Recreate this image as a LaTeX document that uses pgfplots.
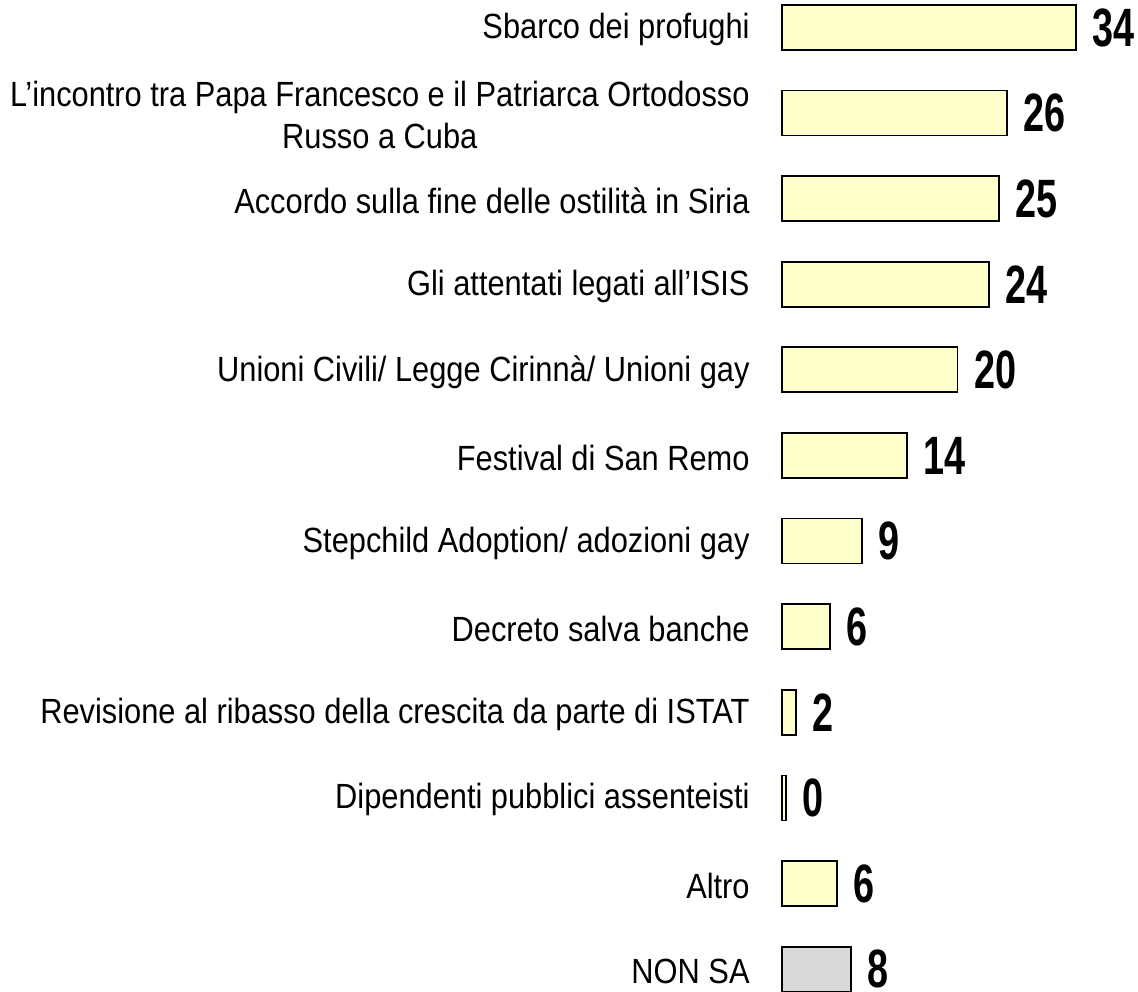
\documentclass[border=0pt]{standalone}
\usepackage{fontspec}
\setmainfont{Liberation Sans}
\newfontfamily\labfont[FakeStretch=0.88]{Liberation Sans}
\newfontfamily\numfont[FakeStretch=0.7]{Liberation Sans}
\usepackage{pgfplots}
\pgfplotsset{compat=1.18}
\usepackage{pgfplotstable}
\definecolor{barY}{HTML}{FFFFCC}
\definecolor{barG}{HTML}{D9D9D9}

\pgfplotstableread{
y x lab
0 34.0 34
1 26.0 26
2 25.1 25
3 23.9 24
4 20.3 20
5 14.45 14
6 9.25 9
7 5.55 6
8 1.6 2
9 0.46 0
10 6.36 6
}\mainT
\pgfplotstableread{
y x lab
11 7.98 8
}\nsT

\begin{document}
\begin{tikzpicture}
\begin{axis}[name=ax, scale only axis, width=178pt, height=496pt,
  xmin=0, xmax=41.16, ymin=-0.321, ymax=11.2675, y dir=reverse,
  axis line style={draw=none}, xtick=\empty,
  ytick={0,...,11},
  yticklabels={Sbarco dei profughi,
    {L’incontro tra Papa Francesco e il Patriarca Ortodosso\\Russo a Cuba},
    Accordo sulla fine delle ostilità in Siria,
    Gli attentati legati all’ISIS,
    Unioni Civili/ Legge Cirinnà/ Unioni gay,
    Festival di San Remo,
    Stepchild Adoption/ adozioni gay,
    Decreto salva banche,
    Revisione al ribasso della crescita da parte di ISTAT,
    Dipendenti pubblici assenteisti,
    Altro,
    NON SA},
  ytick style={draw=none}, major tick length=0pt,
  yticklabel style={font=\labfont\fontsize{17.5}{21}\selectfont, align=center, inner sep=0pt, xshift=-16pt, yshift=-1pt},
  clip=false, xbar, bar width=22.5pt, bar shift=0pt,
  nodes near coords, point meta=explicit symbolic,
  nodes near coords style={font=\numfont\bfseries\fontsize{27}{27}\selectfont, anchor=west, inner sep=0pt, xshift=8pt, text=black}]
\addplot[fill=barY, draw=black, line width=0.9pt] table[x=x, y=y, meta=lab]{\mainT};
\addplot[fill=barG, draw=black, line width=0.9pt] table[x=x, y=y, meta=lab]{\nsT};
\end{axis}
\pgfresetboundingbox
\path (ax.south west) ++(-391pt,0) rectangle (ax.north east);
\end{tikzpicture}
\end{document}
